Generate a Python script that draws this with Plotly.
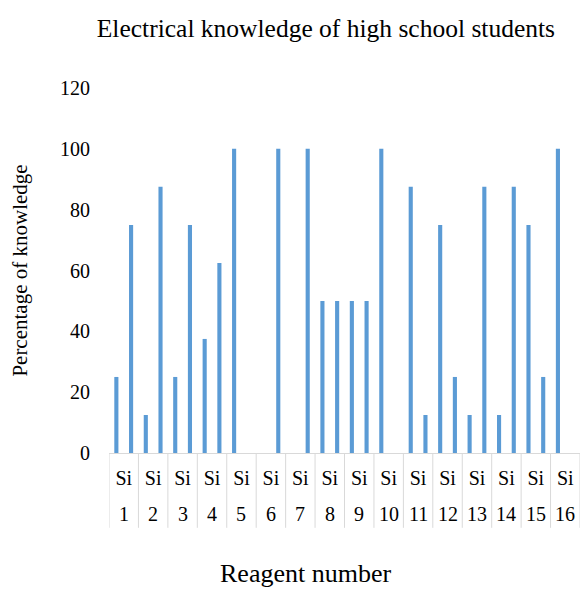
import plotly.graph_objects as go

# Reagent numbers and the answer label shown above each number
reagents = [str(i) for i in range(1, 17)]
answer_label = ["Si"] * 16

# Percentage of students per reagent (two bars per reagent)
first_bar = [25, 12.5, 25, 37.5, 100, 0, 0, 50, 50, 100, 87.5, 75, 12.5, 12.5, 75, 100]
second_bar = [75, 87.5, 75, 62.5, 0, 100, 100, 50, 50, 0, 12.5, 25, 87.5, 87.5, 25, 0]

y_ticks = [0, 20, 40, 60, 80, 100, 120]

bar_color = "#5B9BD5"
grid_grey = "#d9d9d9"
serif = "Liberation Serif, Times New Roman, serif"

fig = go.Figure()
fig.add_trace(go.Bar(x=reagents, y=first_bar, marker=dict(color=bar_color, line=dict(width=0)),
                     showlegend=False))
fig.add_trace(go.Bar(x=reagents, y=second_bar, marker=dict(color=bar_color, line=dict(width=0)),
                     showlegend=False))

n = len(reagents)

# Second label row: reagent number under each "Si" (category index on the x axis)
annotations = [
    dict(x=i, xref="x", y=0, yref="paper", yshift=-61, yanchor="middle", xanchor="center",
         text=r, showarrow=False, font=dict(family=serif, size=20, color="black"))
    for i, r in enumerate(reagents)
]

# Category separators running through both label rows
shapes = [
    dict(type="line", xref="x", yref="paper", x0=i - 0.5, x1=i - 0.5, y0=0, y1=-0.205,
         line=dict(color=grid_grey, width=1))
    for i in range(n + 1)
]

# Plot-area size in pixels, used to place the x-axis title
left, right, top, bottom = 109, 3, 88, 137
plot_w = 583 - left - right
plot_h = 590 - top - bottom
annotations.append(
    dict(x=(305 - left) / plot_w, xref="paper", y=(590 - bottom - 573) / plot_h, yref="paper",
         text="Reagent number", showarrow=False, borderpad=0,
         font=dict(family=serif, size=26, color="black"), xanchor="center", yanchor="middle")
)

fig.update_layout(
    width=583, height=590,
    paper_bgcolor="white", plot_bgcolor="white",
    margin=dict(l=left, r=right, t=top, b=bottom),
    barmode="group", bargap=0, bargroupgap=0.72,
    font=dict(family=serif, color="black", size=19),
    title=dict(text="Electrical knowledge of high school students",
               x=0.559, xanchor="center", y=0.952, yanchor="middle",
               font=dict(family=serif, size=25.5, color="black")),
    xaxis=dict(
        type="category", range=[-0.5, n - 0.5],
        tickvals=reagents, ticktext=answer_label,
        showline=True, linecolor=grid_grey, linewidth=1,
        tickfont=dict(family=serif, size=20, color="black"),
        showgrid=False, ticks="", ticklabelstandoff=7,
    ),
    yaxis=dict(
        range=[0, 120], tickvals=y_ticks, showgrid=False, zeroline=False, showline=False,
        ticks="", ticklabelstandoff=18,
        tickfont=dict(family=serif, size=20, color="black"),
        title=dict(text="Percentage of knowledge", font=dict(family=serif, size=21, color="black"),
                   standoff=26),
    ),
    annotations=annotations,
    shapes=shapes,
)

fig.write_html("out.html")
